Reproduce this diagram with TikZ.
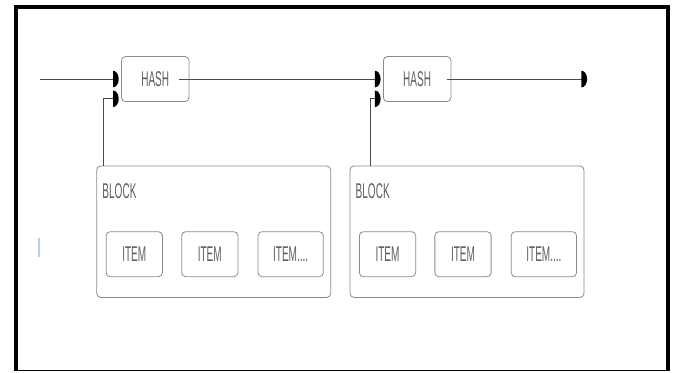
\documentclass[tikz,border=0pt]{standalone}
\usepackage{fontspec}
\newfontfamily\narrowsf{Liberation Sans}[FakeStretch=0.47]
\usetikzlibrary{positioning,arrows.meta}

\definecolor{boxgray}{HTML}{8A8A8A}
\definecolor{linegray}{HTML}{4A4A4A}
\definecolor{textgray}{HTML}{5E5E5E}
\definecolor{markblue}{HTML}{A9D6F2}

% flat-backed half disc as arrow tip
\pgfdeclarearrow{
  name = halfdisc,
  defaults = {length = 3.2pt, width = 9.5pt},
  setup code = {
    \pgfarrowssettipend{\pgfarrowlength}
    \pgfarrowssetbackend{0pt}
    \pgfarrowssetlineend{0.5pt}
    \pgfarrowssavethe\pgfarrowlength
    \pgfarrowssavethe\pgfarrowwidth
  },
  parameters = {\the\pgfarrowlength,\the\pgfarrowwidth},
  drawing code = {
    \pgfpathmoveto{\pgfqpoint{0pt}{-.5\pgfarrowwidth}}
    \pgfpatharc{-90}{90}{\pgfarrowlength and .5\pgfarrowwidth}
    \pgfpathclose
    \pgfusepathqfill
  }
}

\begin{document}
\begin{tikzpicture}[
 box/.style={draw=boxgray, line width=0.5pt, rounded corners=2.5pt, inner sep=0pt,
   text=textgray, font=\narrowsf\fontsize{13.5pt}{15pt}\selectfont},
 hashbox/.style={box, minimum width=1.5cm, minimum height=1cm},
 blockbox/.style={box, minimum width=5.2cm, minimum height=2.92cm},
 itembox/.style={box, minimum height=1cm, minimum width=1.25cm},
 lbl/.style={inner sep=0pt, text=textgray, font=\narrowsf\fontsize{13.5pt}{15pt}\selectfont},
 link/.style={draw=linegray, line width=0.6pt, -{halfdisc[length=3.6pt,width=10.5pt,black]}, shorten >=1.5pt}
]
 \useasboundingbox (0,0) rectangle (15,8.267);
 % frame
 \draw[line width=3pt] (0.356,0.02) -- (0.356,8.111) -- (14.844,8.111) -- (14.844,0.02);
 \draw[line width=0.7pt] (0.356,0.033) -- (14.844,0.033);
 \draw[markblue, line width=1.6pt] (0.867,2.56) -- (0.867,2.98);
 %
 \node[hashbox] (hashA) at (3.45,6.51) {HASH};
 \node[hashbox] (hashB) at (9.27,6.51) {HASH};
 %
 \node[blockbox] (blockA) at (4.749,3.118) {};
 \node[blockbox, right=0.41cm of blockA] (blockB) {};
 \node[lbl, anchor=west] (labelA) at ([xshift=0.13cm,yshift=-0.56cm]blockA.north west) {BLOCK};
 \node[lbl, anchor=west] (labelB) at ([xshift=0.13cm,yshift=-0.56cm]blockB.north west) {BLOCK};
 %
 \node[itembox, below right=1.46cm and 0.21cm of blockA.north west] (itemA1) {ITEM};
 \node[itembox, right=0.41cm of itemA1] (itemA2) {ITEM};
 \node[itembox, right=0.43cm of itemA2, minimum width=1.45cm] (itemA3) {ITEM....};
 \node[itembox, below right=1.46cm and 0.21cm of blockB.north west] (itemB1) {ITEM};
 \node[itembox, right=0.41cm of itemB1] (itemB2) {ITEM};
 \node[itembox, right=0.43cm of itemB2, minimum width=1.45cm] (itemB3) {ITEM....};
 %
 \coordinate (start) at (0.89,6.51);
 \coordinate (finish) at (13.1,6.51);
 \draw[link] (start) -- (hashA.west);
 \draw[link] ([xshift=-0.22cm]hashA.east) -- (hashB.west);
 \draw[link] ([xshift=-0.09cm]hashB.east) -- (finish);
 %
 \draw[link] ([xshift=0.17cm]blockA.north west) |- ([yshift=0.07cm]hashA.south west);
 \draw[link] ([xshift=0.46cm]blockB.north west) |- ([yshift=0.07cm]hashB.south west);
\end{tikzpicture}
\end{document}
